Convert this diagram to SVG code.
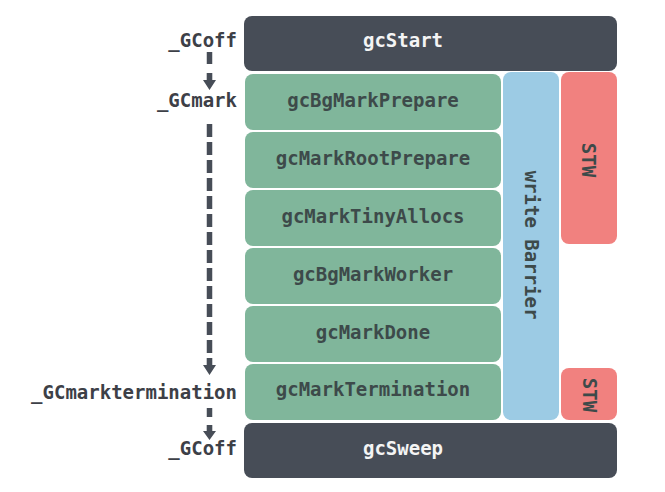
<svg xmlns="http://www.w3.org/2000/svg" width="665" height="492" viewBox="0 0 665 492">
<style>
.t{font-family:"DejaVu Sans Mono","Liberation Mono",monospace;font-weight:bold;font-size:19px}
.dark{fill:#474d57}
.green{fill:#80b69b}
.blue{fill:#9ccbe4}
.red{fill:#f1817f}
.wt{fill:#f4f4f4;text-anchor:middle}
.gt{fill:#3d4a4a;text-anchor:middle}
.lt{fill:#3d4047;text-anchor:end}
.dash{stroke:#474d57;stroke-width:5.5;fill:none}
.head{fill:#474d57}
</style>
<rect width="665" height="492" fill="#ffffff"/>
<g id="gcStart"><rect class="dark" x="244" y="16" width="373" height="55" rx="8"/><text class="t wt" x="403" y="47">gcStart</text></g>
<g id="gcBgMarkPrepare"><rect class="green" x="245" y="74" width="256" height="56" rx="8"/><text class="t gt" x="373" y="107">gcBgMarkPrepare</text></g>
<g id="gcMarkRootPrepare"><rect class="green" x="245" y="132" width="256" height="56" rx="8"/><text class="t gt" x="373" y="165">gcMarkRootPrepare</text></g>
<g id="gcMarkTinyAllocs"><rect class="green" x="245" y="190" width="256" height="56" rx="8"/><text class="t gt" x="373" y="223">gcMarkTinyAllocs</text></g>
<g id="gcBgMarkWorker"><rect class="green" x="245" y="248" width="256" height="56" rx="8"/><text class="t gt" x="373" y="281">gcBgMarkWorker</text></g>
<g id="gcMarkDone"><rect class="green" x="245" y="306" width="256" height="56" rx="8"/><text class="t gt" x="373" y="339">gcMarkDone</text></g>
<g id="gcMarkTermination"><rect class="green" x="245" y="364" width="256" height="56" rx="8"/><text class="t gt" x="373" y="396">gcMarkTermination</text></g>
<g id="writeBarrier"><rect class="blue" x="503" y="72" width="56" height="348" rx="8"/><text class="t gt" transform="translate(531 245) rotate(90)" x="0" y="6.5">write Barrier</text></g>
<g id="stw1"><rect class="red" x="561" y="72" width="56" height="172" rx="8"/><text class="t gt" transform="translate(588 160) rotate(90)" x="0" y="6.5">STW</text></g>
<g id="stw2"><rect class="red" x="561" y="368" width="56" height="52" rx="8"/><text class="t gt" transform="translate(589 395) rotate(90)" x="0" y="6.5">STW</text></g>
<g id="gcSweep"><rect class="dark" x="244" y="423" width="373" height="55" rx="8"/><text class="t wt" x="403" y="455">gcSweep</text></g>
<g id="labels">
<text class="t lt" x="237" y="47">_GCoff</text>
<text class="t lt" x="237" y="107">_GCmark</text>
<text class="t lt" x="237" y="399">_GCmarktermination</text>
<text class="t lt" x="237" y="455">_GCoff</text>
</g>
<g id="connectors">
<line class="dash" x1="209.5" y1="52" x2="209.5" y2="64"/>
<path class="head" d="M206.7 73 H212.3 V80 H216 L209.5 90 L203 80 H206.7 Z"/>
<line class="dash" x1="209.5" y1="124" x2="209.5" y2="353" stroke-dasharray="13 5"/>
<path class="head" d="M206.7 358 H212.3 V365 H216 L209.5 375 L203 365 H206.7 Z"/>
<line class="dash" x1="209.5" y1="408" x2="209.5" y2="417"/>
<path class="head" d="M206.7 425 H212.3 V431 H216 L209.5 440 L203 431 H206.7 Z"/>
</g>
</svg>
